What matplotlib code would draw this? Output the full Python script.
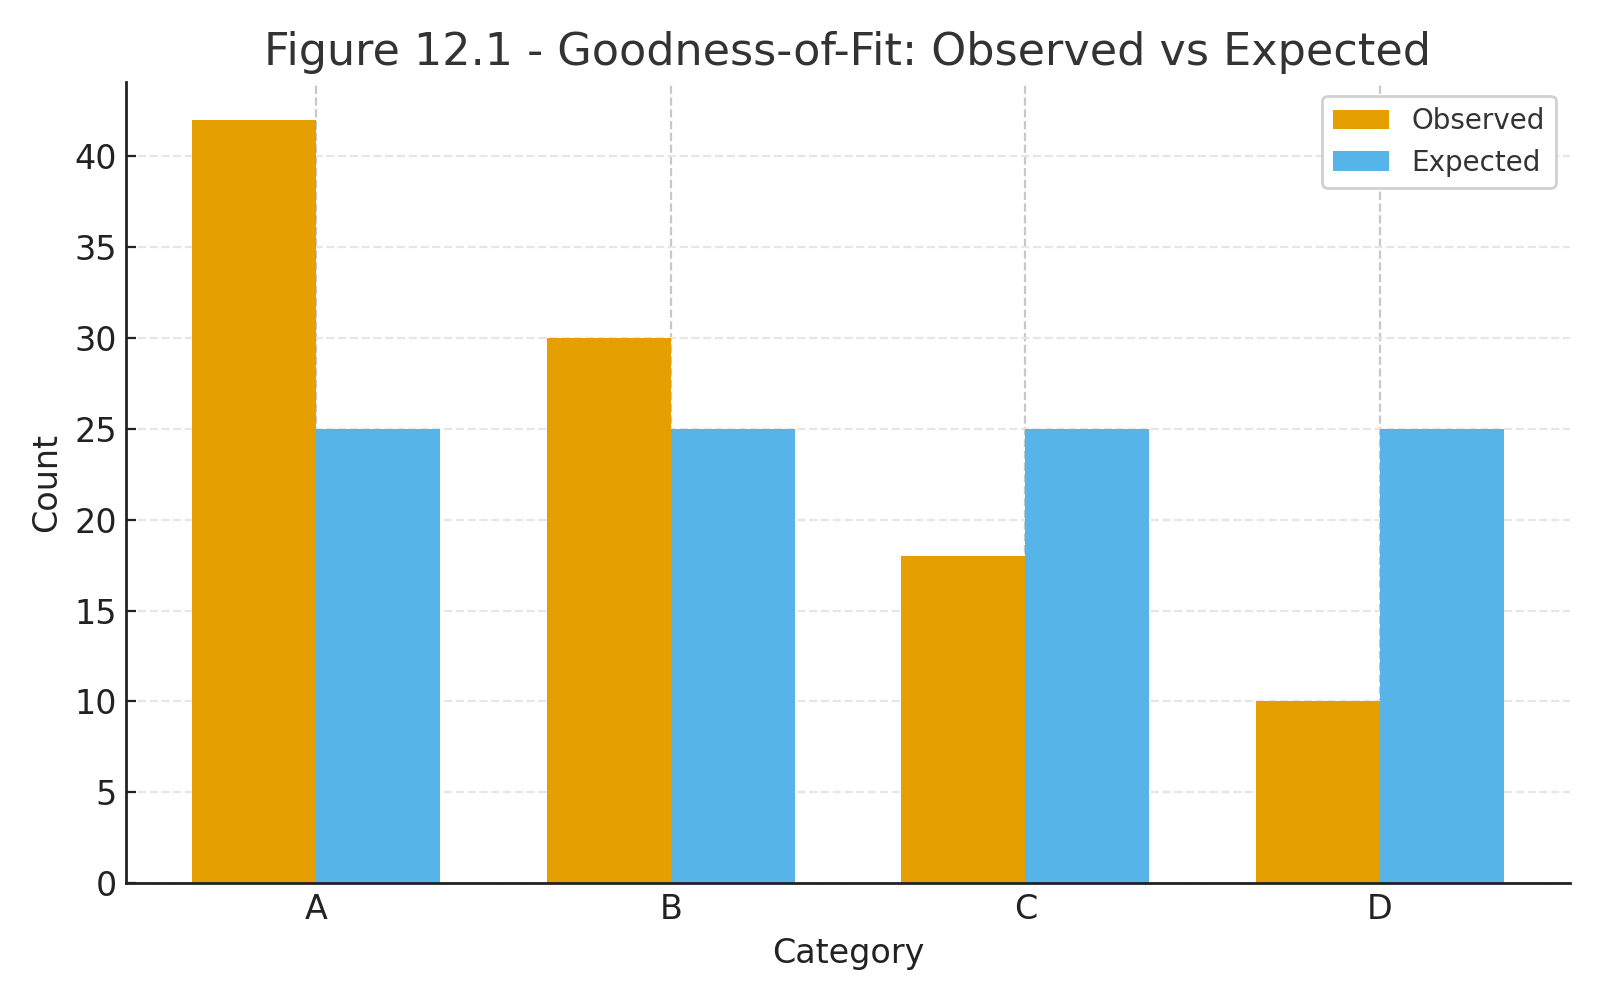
import matplotlib
matplotlib.use("Agg")
import matplotlib.pyplot as plt
import numpy as np

categories = ["A", "B", "C", "D"]
observed = [42, 30, 18, 10]
expected = [25, 25, 25, 25]

fig, ax = plt.subplots(figsize=(8, 5), dpi=200)
x = np.arange(len(categories))
w = 0.35
ax.bar(x - w/2, observed, w, color="#E69F00", label="Observed", zorder=2)
ax.bar(x + w/2, expected, w, color="#56B4E9", label="Expected", zorder=2)

ax.set_xticks(x)
ax.set_xticklabels(categories)
ax.tick_params(labelsize=12, colors="#222222", direction="in", length=3.5)
ax.set_xlabel("Category", fontsize=12, color="#222222")
ax.set_ylabel("Count", fontsize=12, color="#222222")
ax.set_title("Figure 12.1 - Goodness-of-Fit: Observed vs Expected", fontsize=16, color="#333333")

ax.set_axisbelow(True)
ax.yaxis.grid(True, linestyle="--", color="#e6e6e6", linewidth=0.8)
ax.xaxis.grid(True, linestyle="--", color="#c8c8c8", linewidth=0.8)
ax.spines["top"].set_visible(False)
ax.spines["right"].set_visible(False)
for s in ["left", "bottom"]:
    ax.spines[s].set_color("#222222")
    ax.spines[s].set_linewidth(1.0)

leg = ax.legend(fontsize=10, loc="upper right", framealpha=1, edgecolor="#d0d0d0")
for t in leg.get_texts():
    t.set_color("#333333")

fig.subplots_adjust(left=0.079, right=0.981, top=0.918, bottom=0.117)
fig.savefig("out.png", dpi=200)
